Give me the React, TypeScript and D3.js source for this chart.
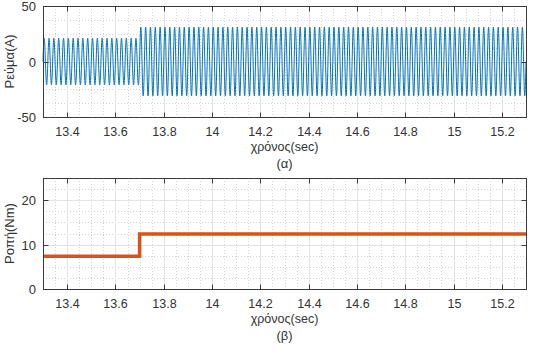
import * as d3 from 'd3';
import { useEffect, useRef } from 'react';

// time axis
const xDomain = [13.3, 15.3];
const xTicks = [13.4, 13.6, 13.8, 14, 14.2, 14.4, 14.6, 14.8, 15, 15.2];

// current (A): two sinusoidal segments, 50 Hz
const segStart = [13.3, 13.7];
const segEnd = [13.7, 15.3];
const segAmp = [21, 31];
const segFreq = [50, 50];
const currentTicks = [-50, 0, 50];

// torque (Nm): step levels
const torqueTimes = [13.3, 13.7, 13.7, 15.3];
const torqueVals = [7.4, 7.4, 12.4, 12.4];
const torqueTicks = [0, 10, 20];

const W = 535;
const H = 354;
const FONT = '"Liberation Sans", Arial, sans-serif';
const FS = 12.5;

const App: React.FC = () => {
    const svgRef = useRef<SVGSVGElement>(null);

    useEffect(() => {
        const svg = d3.select(svgRef.current);
        svg.selectAll('*').remove();

        const x = d3.scaleLinear().domain(xDomain).range([43, 526]);

        const drawPanel = (
            top: number,
            bottom: number,
            yDomain: number[],
            yTicks: number[],
            yMinorStep: number,
            ylabel: string,
            tag: string
        ) => {
            const y = d3.scaleLinear().domain(yDomain).range([bottom, top]);
            const g = svg.append('g');

            g.append('rect')
                .attr('x', x.range()[0]).attr('y', top)
                .attr('width', x.range()[1] - x.range()[0]).attr('height', bottom - top)
                .attr('fill', '#fff');

            // minor grid
            const xMinor = d3.range(13.3, 15.3001, 0.05);
            g.selectAll('.xmin').data(xMinor).enter().append('line')
                .attr('x1', (d) => Math.round(x(d)) + 0.5).attr('x2', (d) => Math.round(x(d)) + 0.5)
                .attr('y1', top).attr('y2', bottom)
                .attr('stroke', '#d4d4d4').attr('stroke-dasharray', '1,2');
            const yMinor = d3.range(yDomain[0], yDomain[1] + 0.001, yMinorStep);
            g.selectAll('.ymin').data(yMinor).enter().append('line')
                .attr('x1', x.range()[0]).attr('x2', x.range()[1])
                .attr('y1', (d) => Math.round(y(d)) + 0.5).attr('y2', (d) => Math.round(y(d)) + 0.5)
                .attr('stroke', '#d4d4d4').attr('stroke-dasharray', '1,2');

            // major grid
            g.selectAll('.xmaj').data(xTicks).enter().append('line')
                .attr('x1', (d) => Math.round(x(d)) + 0.5).attr('x2', (d) => Math.round(x(d)) + 0.5)
                .attr('y1', top).attr('y2', bottom)
                .attr('stroke', '#e3e3e3');
            g.selectAll('.ymaj').data(yTicks).enter().append('line')
                .attr('x1', x.range()[0]).attr('x2', x.range()[1])
                .attr('y1', (d) => Math.round(y(d)) + 0.5).attr('y2', (d) => Math.round(y(d)) + 0.5)
                .attr('stroke', '#e3e3e3');

            return { g, y, finish: () => {
                const x0 = x.range()[0] + 0.5;
                const x1 = x.range()[1] + 0.5;
                const t = top + 0.5;
                const b = bottom + 0.5;
                // box
                g.append('rect').attr('x', x0).attr('y', t)
                    .attr('width', x1 - x0).attr('height', b - t)
                    .attr('fill', 'none').attr('stroke', '#3a3a3a');
                // ticks inside on all sides
                xTicks.forEach((v) => {
                    const px = Math.round(x(v)) + 0.5;
                    g.append('line').attr('x1', px).attr('x2', px).attr('y1', b).attr('y2', b - 5).attr('stroke', '#3a3a3a');
                    g.append('line').attr('x1', px).attr('x2', px).attr('y1', t).attr('y2', t + 5).attr('stroke', '#3a3a3a');
                    g.append('text').attr('x', px).attr('y', bottom + 19)
                        .attr('text-anchor', 'middle').attr('font-family', FONT).attr('font-size', FS)
                        .attr('fill', '#333').text(d3.format('~g')(v));
                });
                yTicks.forEach((v) => {
                    const py = Math.round(y(v)) + 0.5;
                    g.append('line').attr('x1', x0).attr('x2', x0 + 5).attr('y1', py).attr('y2', py).attr('stroke', '#3a3a3a');
                    g.append('line').attr('x1', x1).attr('x2', x1 - 5).attr('y1', py).attr('y2', py).attr('stroke', '#3a3a3a');
                    g.append('text').attr('x', 36).attr('y', py + 4.5)
                        .attr('text-anchor', 'end').attr('font-family', FONT).attr('font-size', 13)
                        .attr('fill', '#333').text(String(v));
                });
                g.append('text')
                    .attr('transform', `translate(14,${(top + bottom) / 2}) rotate(-90)`)
                    .attr('text-anchor', 'middle').attr('font-family', FONT).attr('font-size', 13)
                    .attr('fill', '#333').text(ylabel);
                const cx = (x.range()[0] + x.range()[1]) / 2;
                g.append('text').attr('x', cx).attr('y', bottom + 34)
                    .attr('text-anchor', 'middle').attr('font-family', FONT).attr('font-size', FS)
                    .attr('fill', '#333').text('χρόνος(sec)');
                g.append('text').attr('x', cx).attr('y', bottom + 51)
                    .attr('text-anchor', 'middle').attr('font-family', FONT).attr('font-size', 13)
                    .attr('fill', '#333').text(tag);
            } };
        };

        // panel (α): current
        const p1 = drawPanel(6, 117, [-50, 50], currentTicks, 12.5, 'Ρεύμα(Α)', '(α)');
        const pts: [number, number][] = [];
        segStart.forEach((s, i) => {
            const n = Math.round((segEnd[i] - s) * segFreq[i] * 40);
            for (let k = 0; k <= n; k++) {
                const t = s + (k / n) * (segEnd[i] - s);
                pts.push([t, segAmp[i] * Math.sin(2 * Math.PI * segFreq[i] * (t - 13.3))]);
            }
        });
        p1.g.append('path')
            .datum(pts)
            .attr('fill', 'none').attr('stroke', '#0072BD').attr('stroke-width', 1)
            .attr('d', d3.line<[number, number]>().x((d) => x(d[0])).y((d) => p1.y(d[1])));
        p1.finish();

        // panel (β): torque
        const p2 = drawPanel(178, 289, [0, 25], torqueTicks, 2.5, 'Ροπή(Nm)', '(β)');
        const tp = torqueTimes.map((t, i) => [t, torqueVals[i]] as [number, number]);
        p2.g.append('path')
            .datum(tp)
            .attr('fill', 'none').attr('stroke', '#D95319').attr('stroke-width', 3.5)
            .attr('d', d3.line<[number, number]>().x((d) => x(d[0])).y((d) => p2.y(d[1])));
        p2.finish();
    }, []);

    return (
        <div style={{ position: 'absolute', left: 0, top: 0, width: W, height: H, background: '#fff' }}>
            <svg ref={svgRef} width={W} height={H}></svg>
        </div>
    );
};

export default App;
